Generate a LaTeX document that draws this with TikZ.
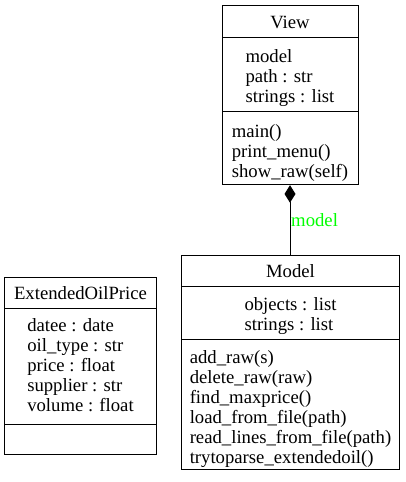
\documentclass[tikz,border=0pt]{standalone}
\usepackage{fontspec}
\setmainfont{Liberation Serif}
\usetikzlibrary{arrows.meta}
\begin{document}
\begin{tikzpicture}[x=1pt,y=-1pt,
  comp/.style={draw=black, line width=1pt, inner sep=0pt, align=left,
    text depth=0pt, font=\fontsize{18.7pt}{20pt}\selectfont},
  lbl/.style={text=green, inner sep=0pt, anchor=base west,
    font=\fontsize{18.7pt}{20pt}\selectfont},
  conn/.style={line width=1pt, {Diamond[length=17.5pt,width=11pt]}-}]
\useasboundingbox (0,0) rectangle (405,482);
% View
\node[comp, minimum width=136pt, minimum height=32.7pt, text height=13.9pt] (viewT) at (290,21.35) {View};
\node[comp, minimum width=136pt, minimum height=74pt, text height=54.6pt] (viewA) at (290,74.7) {model\\path : str\\strings : list};
\node[comp, minimum width=136pt, minimum height=73pt, text height=57.6pt] (viewM) at (290,148.2) {main()\\print\_menu()\\show\_raw(self)};
% Model
\node[comp, minimum width=218pt, minimum height=31pt, text height=12.2pt] (modelT) at (290.5,271.2) {Model};
\node[comp, minimum width=218pt, minimum height=52.3pt, text height=34.3pt] (modelA) at (290.5,312.85) {objects : list\\strings : list};
\node[comp, minimum width=218pt, minimum height=130pt, text height=118pt] (modelM) at (290.5,404) {add\_raw(s)\\delete\_raw(raw)\\find\_maxprice()\\load\_from\_file(path)\\read\_lines\_from\_file(path)\\trytoparse\_extendedoil()};
% ExtendedOilPrice
\node[comp, minimum width=152.4pt, minimum height=31pt, text height=13pt] (extT) at (80.5,292.8) {ExtendedOilPrice};
\node[comp, minimum width=152.4pt, minimum height=115.7pt, text height=90.7pt] (extA) at (80.5,366.15) {datee : date\\oil\_type : str\\price : float\\supplier : str\\volume : float};
\node[comp, minimum width=152.4pt, minimum height=30pt] (extM) at (80.5,439) {};
% connector
\draw[conn] (viewM.south) -- (viewM.south |- modelT.north);
\node[lbl] (lab) at (291,226.5) {model};
\end{tikzpicture}
\end{document}
